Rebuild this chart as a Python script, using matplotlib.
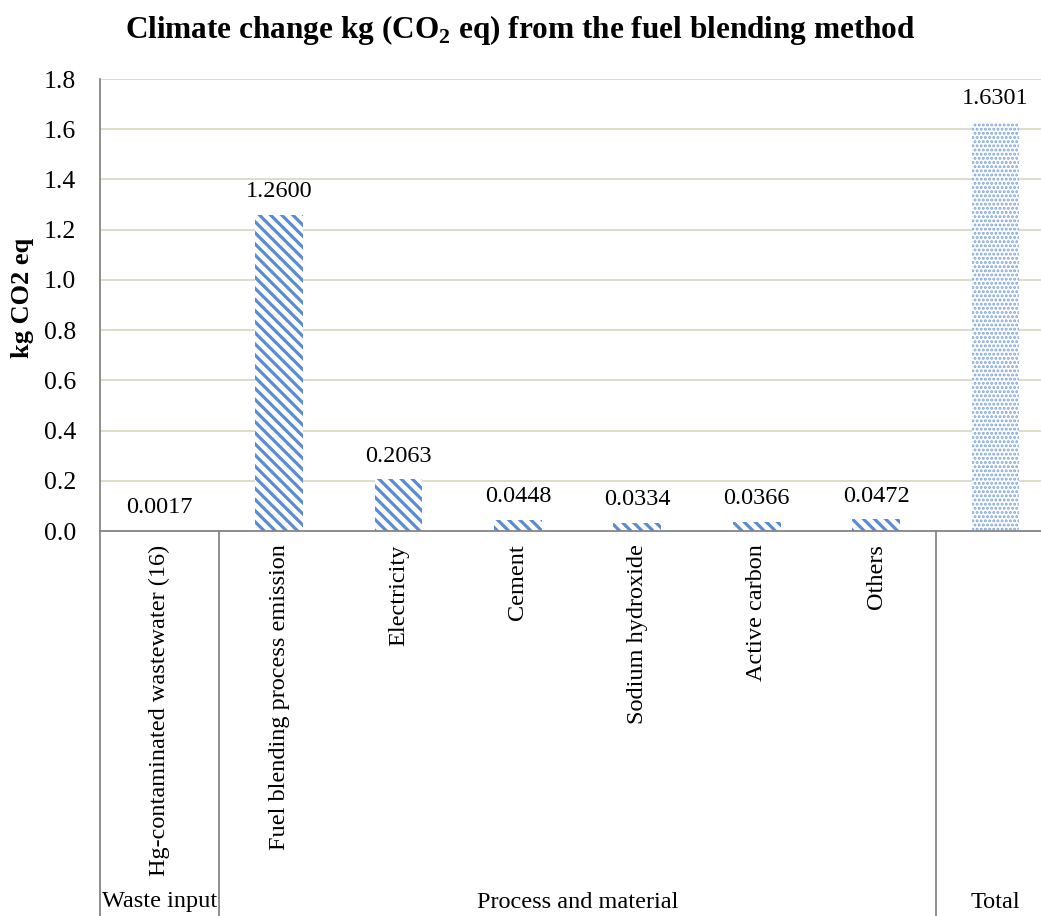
import matplotlib
matplotlib.use('Agg')
import matplotlib.pyplot as plt
from matplotlib.lines import Line2D

# data
categories = ['Hg-contaminated wastewater (16)', 'Fuel blending process emission',
              'Electricity', 'Cement', 'Sodium hydroxide', 'Active carbon', 'Others', '']
values = [0.0017, 1.2600, 0.2063, 0.0448, 0.0334, 0.0366, 0.0472, 1.6301]
value_labels = ['0.0017', '1.2600', '0.2063', '0.0448', '0.0334', '0.0366', '0.0472', '1.6301']
groups = ['Waste input', 'Process and material', 'Total']
group_spans = [(0, 1), (1, 7), (7, 8)]   # slot ranges
y_ticks = [0.0, 0.2, 0.4, 0.6, 0.8, 1.0, 1.2, 1.4, 1.6, 1.8]

plt.rcParams['font.family'] = ['Liberation Serif', 'DejaVu Serif']
plt.rcParams['mathtext.fontset'] = 'custom'
plt.rcParams['mathtext.rm'] = 'Liberation Serif:bold'
plt.rcParams['mathtext.bf'] = 'Liberation Serif:bold'

W, H = 1041, 916
fig = plt.figure(figsize=(W / 100, H / 100), dpi=100)

# axes in pixel terms: left 100, y=0 at 531, y=1.8 at 79, slot width ~119.4
left, bottom, top = 100, 531, 79
slot = 119.4
ax = fig.add_axes([left / W, (H - bottom) / H, 8 * slot / W, (bottom - top) / H])

def fy(py):
    return (H - py) / H

blue = '#5A8BD3'
light = '#7FA5E0'
for i, v in enumerate(values):
    if i == len(values) - 1:
        lw = 1.4
        with plt.rc_context({'hatch.linewidth': lw}):
            bars = ax.bar(i, v, width=0.4, color='white', edgecolor=light, hatch='....', linewidth=0)
    else:
        lw = 2.3
        with plt.rc_context({'hatch.linewidth': lw}):
            bars = ax.bar(i, v, width=0.4, color='white', edgecolor=blue, hatch='\\\\\\', linewidth=0)
    for b in bars:
        if hasattr(b, 'set_hatch_linewidth'):
            b.set_hatch_linewidth(lw)
    ax.annotate(value_labels[i], (i, v), xytext=(0, 9), textcoords='offset points',
                ha='center', va='bottom', fontsize=17.5)

ax.set_xlim(-0.5, len(values) - 0.5)
ax.set_ylim(0, 1.8)
ax.set_yticks(y_ticks)
ax.set_yticklabels([f'{t:.1f}' for t in y_ticks], fontsize=18.5)
ax.set_xticks([])
ax.tick_params(axis='y', length=0, pad=17)
ax.grid(axis='y', color='#DDD9C6', linewidth=1.3)
ax.set_axisbelow(True)
for s in ['top', 'right']:
    ax.spines[s].set_visible(False)
for s in ['left', 'bottom']:
    ax.spines[s].set_color('#868686')
    ax.spines[s].set_linewidth(1.3)

fig.text(22 / W, fy(298), 'kg CO2 eq', rotation=90, ha='center', va='center',
         fontsize=19, fontweight='bold')

# category labels (rotated) below the axis
trans = ax.get_xaxis_transform()
for i, c in enumerate(categories):
    ax.text(i, -0.03, c, rotation=90, ha='center', va='top', fontsize=17.5,
            transform=trans, clip_on=False)

# group separators and labels
for sx in [0.5, 6.5]:
    xf = (left + (sx + 0.5) * slot) / W
    fig.add_artist(Line2D([xf, xf], [fy(bottom), 0], color='#868686', lw=1.3))
fig.add_artist(Line2D([left / W, left / W], [fy(bottom), 0], color='#868686', lw=1.3))

for g, (a, b) in zip(groups, group_spans):
    cx = (left + (a + b) / 2 * slot) / W
    fig.text(cx, fy(902), g, ha='center', va='center', fontsize=17.5)

fig.suptitle(r'Climate change kg (CO$_{\mathbf{2}}$ eq) from the fuel blending method',
             x=0.5, y=fy(30), va='center', fontsize=22.5, fontweight='bold')

fig.savefig('out.png', dpi=100)
